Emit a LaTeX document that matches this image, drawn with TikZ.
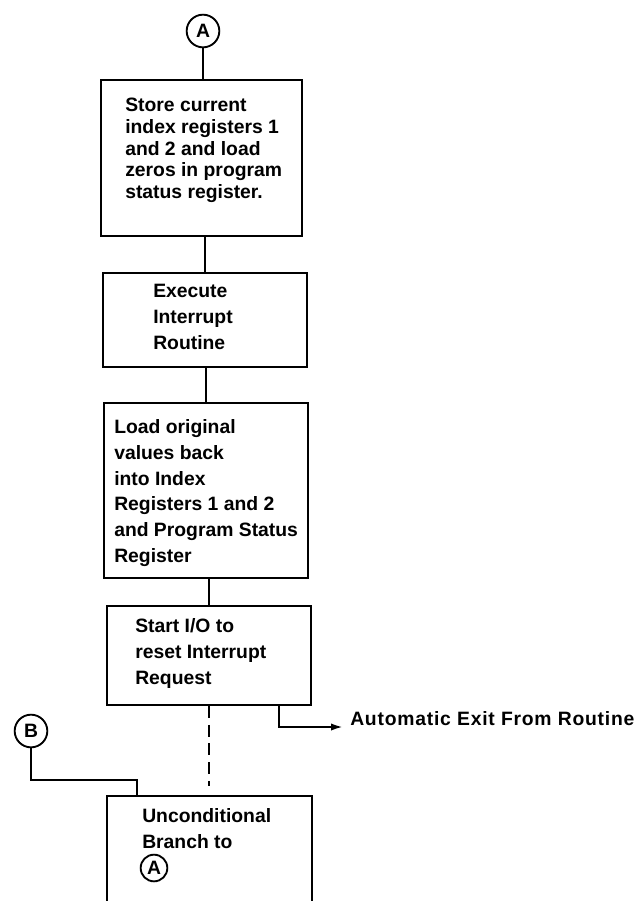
\documentclass[tikz,border=0pt]{standalone}
\usepackage{fontspec}
\setmainfont{Liberation Sans}
\usetikzlibrary{arrows.meta}

\tikzset{
  flowbox/.style={draw, line width=1.7pt, inner sep=0pt},
  offpage/.style={draw, circle, line width=1.4pt, inner sep=0pt, minimum size=24.5pt, font=\fontsize{14.5}{16}\selectfont\bfseries},
  boxtext/.style={anchor=north west, inner sep=0pt, align=left, font=\fontsize{14.5}{19.4}\selectfont\bfseries},
  flowline/.style={line width=1.6pt},
}

\begin{document}
\begin{tikzpicture}[x=0.75pt,y=0.75pt,yscale=-1,xscale=1]
\useasboundingbox (0,0) rectangle (637,901);

%Shape: Circle
\node[offpage] (entryA) at (203,31) {A};
%Shape: Rectangle
\node[flowbox, minimum width=150.75pt, minimum height=117pt] (store) at (201.5,158) {};
%Shape: Rectangle
\node[flowbox, minimum width=153pt, minimum height=70.5pt] (execute) at (205,320) {};
%Shape: Rectangle
\node[flowbox, minimum width=153pt, minimum height=131.25pt] (reload) at (206,490.5) {};
%Shape: Rectangle
\node[flowbox, minimum width=153pt, minimum height=74.25pt] (startio) at (209,655.5) {};
%Shape: Rectangle (open at the bottom)
\node[minimum width=153.75pt, minimum height=85.5pt, inner sep=0pt] (branch) at (209.5,853) {};
\draw[line width=1.7pt] (branch.south west) -- (branch.north west) -- (branch.north east) -- (branch.south east);
%Shape: Circle
\node[offpage] (entryB) at (31,731) {B};
%Shape: Circle
\node[offpage, minimum size=20pt] (gotoA) at (154,868) {A};

%Straight Lines
\draw[flowline] (entryA) -- (entryA |- store.north);
\draw[flowline] (execute.north |- store.south) -- (execute.north);
\draw[flowline] (reload.north |- execute.south) -- (reload.north);
\draw[flowline] (startio.north |- reload.south) -- (startio.north);
\draw[flowline, dash pattern=on 9pt off 5pt, shorten >=7pt] (startio.south) -- (startio.south |- branch.north);
%Straight Lines
\coordinate (bkink) at (137,780);
\draw[flowline] (entryB) |- (bkink) -- (bkink |- branch.north);
%Straight Lines
\coordinate (exitkink) at (279,727);
\draw[flowline, -{Latex[length=9pt,width=5.5pt]}] (exitkink |- startio.south) -- (exitkink) -- (343,727);

% Text Node
\node[boxtext, font=\fontsize{14.5}{16.3}\selectfont\bfseries] (storetext) at (125,98) {Store current\\index registers 1\\and 2 and load\\zeros in program\\status register.};
% Text Node
\node[boxtext] (executetext) at (153,284) {Execute\\Interrupt\\Routine};
% Text Node
\node[boxtext] (reloadtext) at (114,419) {Load original\\values back\\into Index\\Registers 1 and 2\\and Program Status\\Register};
% Text Node
\node[boxtext] (startiotext) at (135,618) {Start I/O to\\reset Interrupt\\Request};
% Text Node
\node[boxtext] (branchtext) at (142,808) {Unconditional\\Branch to};
% Text Node
\node[anchor=base west, inner sep=0pt, font=\fontsize{14.5}{16}\selectfont\bfseries\addfontfeature{LetterSpace=4}] (exit) at (350,725) {Automatic Exit From Routine};
\end{tikzpicture}
\end{document}
